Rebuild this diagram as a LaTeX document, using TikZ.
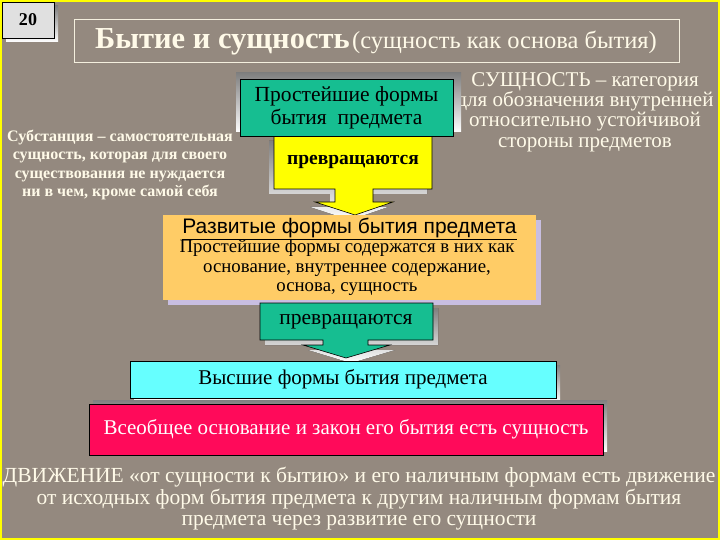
\documentclass[tikz,border=0pt]{standalone}
\usepackage{fontspec}
\setmainfont{Liberation Serif}
\setsansfont{Liberation Sans}

\definecolor{stone}{RGB}{148,137,127}
\definecolor{cream}{RGB}{255,250,232}
\definecolor{jade}{RGB}{22,190,145}
\definecolor{sun}{RGB}{255,255,0}
\definecolor{apricot}{RGB}{255,204,102}
\definecolor{aqua}{RGB}{102,255,255}
\definecolor{crimson}{RGB}{255,10,90}
\definecolor{shade}{RGB}{105,105,105}
\definecolor{lilac}{RGB}{200,190,225}

\tikzset{
    plate/.style={draw=black, line width=0.6pt, inner sep=0pt},
    note/.style={text=cream, align=center, inner sep=0pt},
}

\begin{document}
\begin{tikzpicture}[x=1pt,y=-1pt]
    \useasboundingbox (0,0) rectangle (720,540);
    \fill [stone] (0,0) rectangle (720,540);
    \draw [sun, line width=2pt] (1,1) rectangle (719,539);

    % slide number and title
    \fill [shade] (6,6) rectangle (58,42);
    \node [plate, fill=black!12, minimum width=52pt, minimum height=36pt,
           font=\bfseries\fontsize{18}{20}\selectfont] (num) at (28,20) {20};
    \draw [cream!90!stone, line width=0.8pt] (74,19) rectangle (679,62);
    \node [note] (title) at (376,42)
        {{\bfseries\fontsize{30.5}{32}\selectfont Бытие и сущность}
         {\fontsize{24.5}{26}\selectfont (сущность как основа бытия)}};

    % side notes
    \node [note, font=\bfseries\fontsize{16}{18.5}\selectfont] (subst) at (120,165)
        {Субстанция – самостоятельная\\ сущность, которая для своего\\
         существования не нуждается\\ ни в чем, кроме самой себя};
    \node [note, font=\fontsize{21}{20.3}\selectfont] (essence) at (585,112)
        {СУЩНОСТЬ – категория\\ для обозначения внутренней\\
         относительно устойчивой\\ стороны предметов};

    % first step: simplest forms
    \begin{scope}[line width=0.6pt]
        \fill [shade] (269,141) -- (269,194) -- (330,194) -- (330,207) -- (310,207)
            -- (350,220) -- (388,207) -- (368,207) -- (368,194) -- (427,194) -- (427,141) -- cycle;
        \filldraw [fill=sun] (274,136) -- (432,136) -- (432,189) -- (373,189) -- (373,202)
            -- (393,202) -- (355,215) -- (315,202) -- (335,202) -- (335,189) -- (274,189) -- cycle;
        \fill [shade] (236,73) rectangle (461,132);
    \end{scope}
    \node [plate, fill=jade, minimum width=213pt, minimum height=57pt, align=center,
           font=\fontsize{21.5}{23}\selectfont] (simple) at (346.5,107.5)
        {Простейшие формы\\ бытия\ \ предмета};
    \node [font=\bfseries\fontsize{19.5}{21}\selectfont] (turn1) at (353,162) {превращаются};

    % second step: developed forms
    \fill [lilac] (168,220) rectangle (541,305);
    \node [fill=apricot, minimum width=373pt, minimum height=85pt, inner sep=0pt] (developed) at (349.5,257.5) {};
    \node [font=\sffamily\fontsize{21}{22}\selectfont] (devhead) at (349.5,229)
        {\underline{Развитые формы бытия предмета}};
    \node [align=center, inner sep=0pt, font=\fontsize{18.8}{19.5}\selectfont] (devtext) at (347,268)
        {Простейшие формы содержатся в них как\\ основание, внутреннее содержание,\\ основа, сущность};

    \begin{scope}[line width=0.6pt]
        \fill [shade] (265,308) -- (438,308) -- (438,345) -- (373,345) -- (373,350) -- (395,350)
            -- (351,363) -- (308,350) -- (328,350) -- (328,345) -- (265,345) -- cycle;
        \filldraw [fill=jade] (260,303) -- (433,303) -- (433,340) -- (368,340) -- (368,345)
            -- (390,345) -- (346,358) -- (303,345) -- (323,345) -- (323,340) -- (260,340) -- cycle;
    \end{scope}
    \node [font=\fontsize{21.5}{22}\selectfont] (turn2) at (346,322) {превращаются};

    % third step: higher forms
    \fill [shade] (134,365) rectangle (560,402);
    \node [plate, fill=aqua, minimum width=426pt, minimum height=37pt,
           font=\fontsize{21}{21}\selectfont] (higher) at (343,379.5) {Высшие формы бытия предмета};
    \fill [shade] (93,400) rectangle (607,451);
    \node [plate, fill=crimson, text=white, minimum width=514pt, minimum height=51pt,
           font=\fontsize{21}{21}\selectfont] (ground) at (346,429.5)
        {Всеобщее основание и закон его бытия есть сущность};

    % movement
    \node [note, font=\fontsize{21.5}{21.5}\selectfont] (motion) at (359,499)
        {ДВИЖЕНИЕ «от сущности к бытию» и его наличным формам есть движение\\
         от исходных форм бытия предмета к другим наличным формам бытия\\
         предмета через развитие его сущности};
\end{tikzpicture}
\end{document}
